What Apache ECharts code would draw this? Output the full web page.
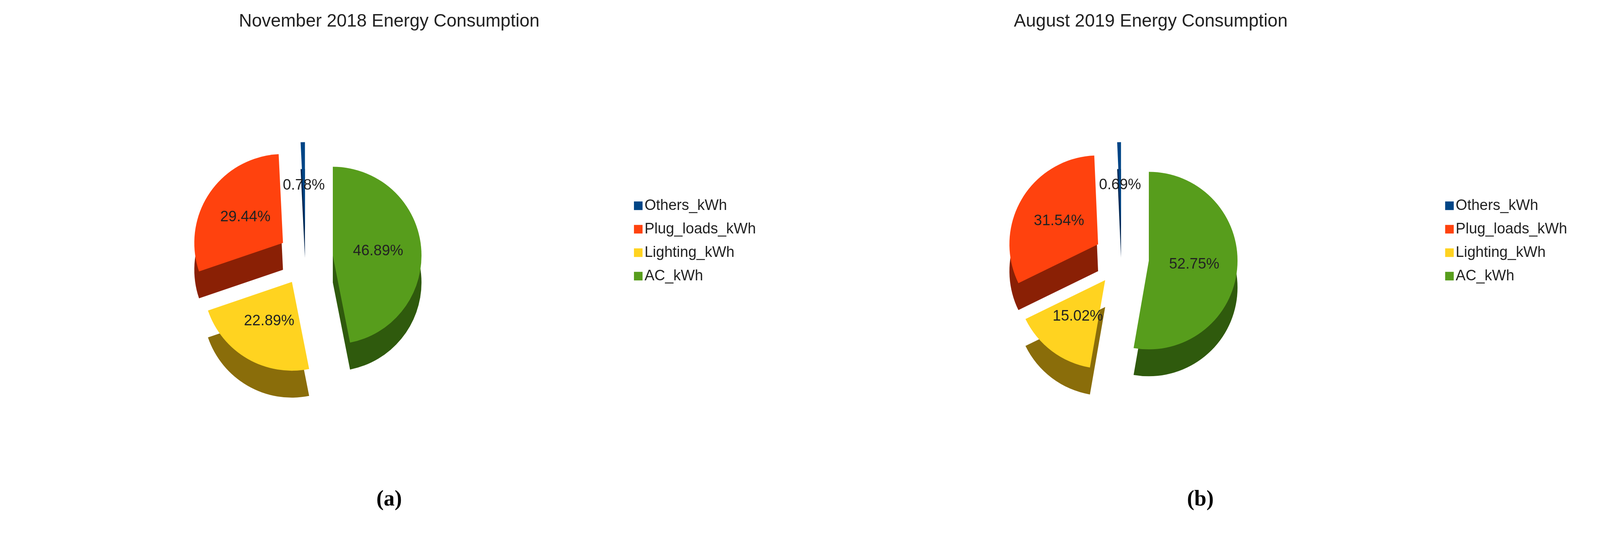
<!DOCTYPE html>
<html><head><meta charset="utf-8">
<script src="https://cdn.jsdelivr.net/npm/echarts@6/dist/echarts.min.js"></script>
<style>html,body{margin:0;padding:0;background:#fff;overflow:hidden}#c{width:100vw;height:100vh}</style>
</head><body><div id="c"></div>
<script>
const categories = ['AC_kWh','Lighting_kWh','Plug_loads_kWh','Others_kWh'];
const legendOrder = ['Others_kWh','Plug_loads_kWh','Lighting_kWh','AC_kWh'];
const nov2018 = [46.89, 22.89, 29.44, 0.78];
const aug2019 = [52.75, 15.02, 31.54, 0.69];
const titles = ['November 2018 Energy Consumption','August 2019 Energy Consumption'];
const colors = {AC_kWh:'#579d1c',Lighting_kWh:'#ffd320',Plug_loads_kWh:'#ff420e',Others_kWh:'#004586'};
const darks = {AC_kWh:'#2f5a0d',Lighting_kWh:'#8a6d0a',Plug_loads_kWh:'#8a2005',Others_kWh:'#002550'};

function data(vals, dark){
  return categories.map((c,i)=>({name:c,value:vals[i],selected:true,
    itemStyle:{color:dark?darks[c]:colors[c]}}));
}
function pies(vals, cx){
  const base = {type:'pie',radius:[0,'33%'],startAngle:90,clockwise:true,
    selectedMode:'multiple',selectedOffset:70,animation:false,avoidLabelOverlap:false};
  return [
    Object.assign({},base,{center:[cx,'48%'],data:data(vals,false),z:2,
      label:{show:true,position:'inner',formatter:p=>p.value.toFixed(2)+'%',
        color:'#222',fontSize:38,fontFamily:'Liberation Sans'},
      labelLine:{show:false}}),
    Object.assign({},base,{center:[cx,'53%'],data:data(vals,true),silent:true,z:1,
      label:{show:false},labelLine:{show:false},legendHoverLink:false})
  ];
}
const chart = echarts.init(document.getElementById('c'));
const ts = {fontSize:46,fontWeight:'normal',color:'#222',fontFamily:'Liberation Sans'};
const ls = {fontSize:38,color:'#222',fontFamily:'Liberation Sans'};
chart.setOption({
  backgroundColor:'#fff',
  title:[
    {text:titles[0],left:'24.2%',top:'2%',textAlign:'center',textStyle:ts},
    {text:titles[1],left:'71.8%',top:'2%',textAlign:'center',textStyle:ts},
    {text:'(a)',left:'24.2%',top:'90.5%',textAlign:'center',textStyle:{fontSize:56,color:'#000',fontFamily:'Liberation Serif'}},
    {text:'(b)',left:'74.9%',top:'90.5%',textAlign:'center',textStyle:{fontSize:56,color:'#000',fontFamily:'Liberation Serif'}}
  ],
  legend:[
    {data:legendOrder,orient:'vertical',left:'39.5%',top:'36.5%',icon:'rect',itemWidth:22,itemHeight:22,itemGap:22,textStyle:ls,selectedMode:false},
    {data:legendOrder,orient:'vertical',left:'90.2%',top:'36.5%',icon:'rect',itemWidth:22,itemHeight:22,itemGap:22,textStyle:ls,selectedMode:false}
  ],
  series:[...pies(nov2018,'19.1%'),...pies(aug2019,'70.1%')]
});
</script></body></html>
